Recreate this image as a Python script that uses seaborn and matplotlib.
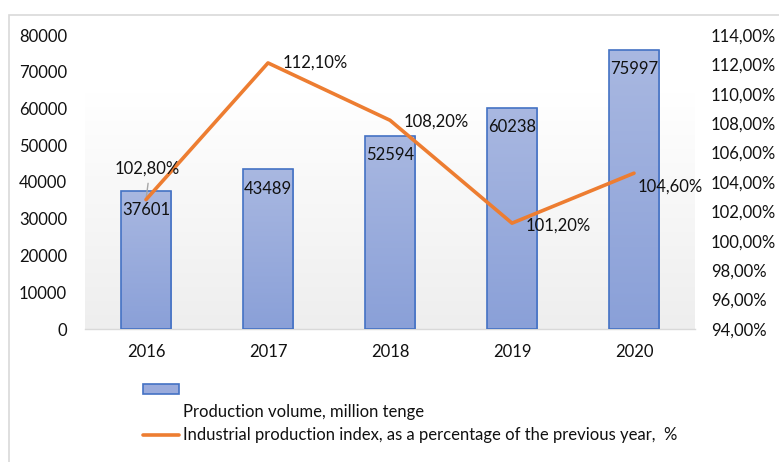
import numpy as np
import pandas as pd
import matplotlib
matplotlib.use("Agg")
import matplotlib.pyplot as plt
from matplotlib.patches import Rectangle
from matplotlib.lines import Line2D
import seaborn as sns

years = ["2016", "2017", "2018", "2019", "2020"]
volume = [37601, 43489, 52594, 60238, 75997]
index_pct = [102.8, 112.1, 108.2, 101.2, 104.6]
index_labels = ["102,80%", "112,10%", "108,20%", "101,20%", "104,60%"]
left_ticks = [0, 10000, 20000, 30000, 40000, 50000, 60000, 70000, 80000]
right_ticks = [94, 96, 98, 100, 102, 104, 106, 108, 110, 112, 114]

vol_name = "Production volume, million tenge"
idx_name = "Industrial production index, as a percentage of the previous year,  %"

df = pd.DataFrame({"year": years, "volume": volume, "index": index_pct})

sns.set_theme(style="white")
plt.rcParams["font.family"] = ["Lato", "DejaVu Sans"]
FS = 12

W, H = 779, 462
fig = plt.figure(figsize=(W / 100, H / 100), dpi=100)
ax = fig.add_axes([85 / W, 1 - 329 / H, 610 / W, 294 / H])

# outer chart frame
fig.patches.append(Rectangle((9 / W, -0.1), 1.2, 1 - 15 / H + 0.1, transform=fig.transFigure,
                             fill=False, edgecolor="#d9d9d9", linewidth=1.2, zorder=0))

BAR_EDGE = "#4472c4"
sns.barplot(data=df, x="year", y="volume", ax=ax, color="#9aabdc", width=0.41,
            edgecolor=BAR_EDGE, linewidth=1.2, saturation=1, zorder=3)

ax.set_xlim(-0.5, 4.5)
ax.set_ylim(0, 80000)

# soft gradient behind the plot area
grad = np.linspace(0, 1, 256).reshape(-1, 1)
bg_cmap = matplotlib.colors.LinearSegmentedColormap.from_list("bg", ["#eeeeee", "#ffffff"])
ax.imshow(grad, extent=(-0.5, 4.5, 0, 64200), origin="lower", aspect="auto",
          cmap=bg_cmap, zorder=0)

# vertical gradient fill inside each bar
bar_cmap = matplotlib.colors.LinearSegmentedColormap.from_list("bar", ["#8aa0d8", "#a9b8e1"])
for patch in ax.patches:
    x0, y0 = patch.get_x(), patch.get_y()
    w, h = patch.get_width(), patch.get_height()
    im = ax.imshow(grad, extent=(x0, x0 + w, y0, y0 + h), origin="lower", aspect="auto",
                   cmap=bar_cmap, zorder=3.5)
    im.set_clip_path(patch)
    patch.set_facecolor("none")
    patch.set_zorder(4)
ax.set_xlim(-0.5, 4.5)
ax.set_ylim(0, 80000)

for i, v in enumerate(volume):
    ax.annotate(str(v), (i, v), xytext=(0, -14), textcoords="offset points",
                ha="center", va="center", fontsize=FS, color="#111111", zorder=6)

ax.set_yticks(left_ticks)
ax.set_yticklabels([str(t) for t in left_ticks])
ax.set_xlabel("")
ax.set_ylabel("")
ax.tick_params(axis="y", length=0, pad=13, labelsize=FS, labelcolor="#111111")
ax.tick_params(axis="x", length=0, pad=11, labelsize=FS, labelcolor="#111111")
for s in ["top", "left", "right"]:
    ax.spines[s].set_visible(False)
ax.spines["bottom"].set_color("#d9d9d9")
ax.spines["bottom"].set_linewidth(1.0)
ax.patch.set_alpha(0)

ax2 = ax.twinx()
sns.lineplot(data=df, x="year", y="index", ax=ax2, color="#ed7d31", linewidth=2.6,
             sort=False, zorder=5)
ax2.set_ylim(94, 114)
ax2.set_yticks(right_ticks)
ax2.set_yticklabels([f"{t:.2f}".replace(".", ",") + "%" for t in right_ticks])
ax2.set_ylabel("")
ax2.tick_params(axis="y", length=0, pad=11.5, labelsize=FS, labelcolor="#111111")
for s in ["top", "left", "right", "bottom"]:
    ax2.spines[s].set_visible(False)
ax2.set_xlim(-0.5, 4.5)

# index labels (offsets in points)
offsets = [(1, 22), (34, 0), (33, -1), (33, -1.5), (26, -10)]
for i, (val, lab) in enumerate(zip(index_pct, index_labels)):
    dx, dy = offsets[i]
    ax2.annotate(lab, (i, val), xytext=(dx, dy), textcoords="offset points",
                 ha="center", va="center", fontsize=FS, color="#111111", zorder=7)
# leader line for the first label
ax2.annotate("", (0, index_pct[0]), xytext=(0.02, index_pct[0] + 1.3),
             arrowprops=dict(arrowstyle="-", color="#a6a6a6", lw=1.0))

# legend
fig.patches.append(Rectangle((143 / W, 1 - 394 / H), 36 / W, 10 / H, transform=fig.transFigure,
                             facecolor="#9aabdc", edgecolor=BAR_EDGE, linewidth=1.2))
fig.text(183 / W, 1 - 412 / H, vol_name, fontsize=FS, va="center", ha="left", color="#111111")
fig.lines.append(Line2D([143 / W, 179 / W], [1 - 435 / H, 1 - 435 / H], transform=fig.transFigure,
                        color="#ed7d31", linewidth=2.6))
fig.text(183 / W, 1 - 435 / H, idx_name, fontsize=FS, va="center", ha="left", color="#111111")

fig.savefig("out.png", dpi=100)
